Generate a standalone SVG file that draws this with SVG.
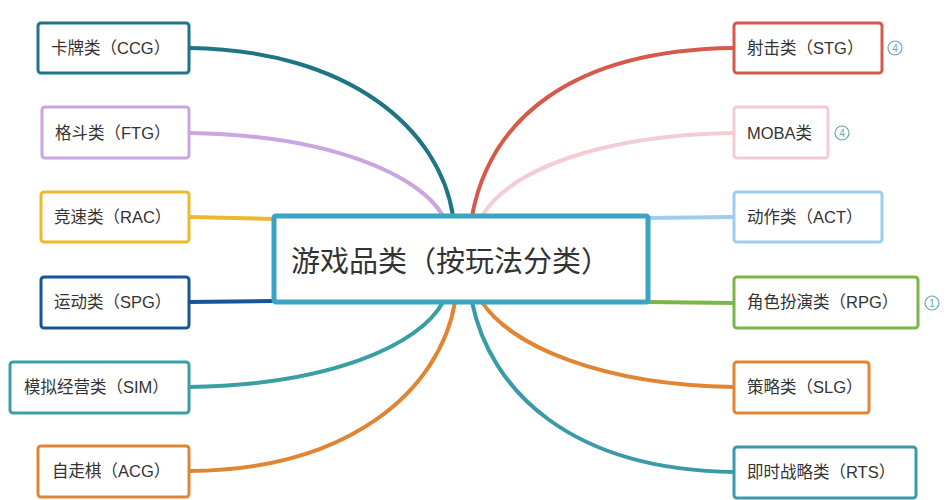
<svg xmlns="http://www.w3.org/2000/svg" width="949" height="500" viewBox="0 0 949 500">
<style>
.n{fill:#fff;stroke-width:3}
.t{font-family:"Liberation Sans","Noto Sans CJK SC",sans-serif;font-size:16.5px;fill:#333}
.c{fill:none;stroke-width:4;stroke-linecap:round}
.b{fill:#fff;stroke:#6aa8b0;stroke-width:1.2}
.bt{font-family:"Liberation Sans",sans-serif;font-size:10px;fill:#6aa8b0;text-anchor:middle}
</style>
<rect width="949" height="500" fill="#fff"/>
<g id="connectors">
<path class="c" stroke="#1e7585" d="M189,48 C350,50 440,130 453,216"/>
<path class="c" stroke="#c9a6df" d="M189,133 C330,135 420,175 443,216"/>
<path class="c" stroke="#ecb92c" d="M189,217 L274,219"/>
<path class="c" stroke="#17559a" d="M189,302 L274,301"/>
<path class="c" stroke="#3a9fa3" d="M189,387 C330,385 420,345 443,302"/>
<path class="c" stroke="#e08534" d="M189,471 C350,470 440,390 455,302"/>
<path class="c" stroke="#d65a4c" d="M734,48 C570,50 490,120 472,216"/>
<path class="c" stroke="#f3cdd3" d="M734,133 C600,135 510,170 482,216"/>
<path class="c" stroke="#9fcdef" d="M648,218 L734,217"/>
<path class="c" stroke="#7ab648" d="M648,302 L734,303"/>
<path class="c" stroke="#e08534" d="M734,387 C600,385 510,345 482,302"/>
<path class="c" stroke="#3a9aa8" d="M734,472 C570,470 490,390 472,302"/>
</g>
<g id="root">
<rect x="274" y="216" width="374" height="86" rx="2" fill="#fff" stroke="#3ba3c6" stroke-width="5"/>
<text x="291" y="272" font-family="'Liberation Sans','Noto Sans CJK SC',sans-serif" font-size="29" fill="#333">游戏品类（按玩法分类）</text>
</g>
<g id="ccg"><rect class="n" x="38" y="23" width="151" height="50" rx="3" stroke="#1e7585"/><text class="t" x="51" y="54">卡牌类（CCG）</text></g>
<g id="ftg"><rect class="n" x="42" y="107" width="147" height="51" rx="3" stroke="#c9a6df"/><text class="t" x="55" y="139">格斗类（FTG）</text></g>
<g id="rac"><rect class="n" x="41" y="192" width="148" height="50" rx="3" stroke="#ecb92c"/><text class="t" x="54" y="223">竞速类（RAC）</text></g>
<g id="spg"><rect class="n" x="41" y="277" width="148" height="51" rx="3" stroke="#17559a"/><text class="t" x="54" y="308">运动类（SPG）</text></g>
<g id="sim"><rect class="n" x="10" y="362" width="179" height="51" rx="3" stroke="#3a9fa3"/><text class="t" x="24" y="393">模拟经营类（SIM）</text></g>
<g id="acg"><rect class="n" x="38" y="446" width="151" height="51" rx="3" stroke="#e08534"/><text class="t" x="52" y="477">自走棋（ACG）</text></g>
<g id="stg"><rect class="n" x="734" y="23" width="148" height="50" rx="3" stroke="#d65a4c"/><text class="t" x="747" y="54">射击类（STG）</text>
<circle class="b" cx="895" cy="48" r="7"/><text class="bt" x="895" y="52">4</text></g>
<g id="moba"><rect class="n" x="734" y="107" width="94" height="51" rx="3" stroke="#f3cdd3"/><text class="t" x="747" y="139">MOBA类</text>
<circle class="b" cx="842" cy="133" r="7"/><text class="bt" x="842" y="137">4</text></g>
<g id="act"><rect class="n" x="734" y="192" width="148" height="50" rx="3" stroke="#9fcdef"/><text class="t" x="747" y="223">动作类（ACT）</text></g>
<g id="rpg"><rect class="n" x="734" y="277" width="184" height="51" rx="3" stroke="#7ab648"/><text class="t" x="747" y="308">角色扮演类（RPG）</text>
<circle class="b" cx="932" cy="303" r="7"/><text class="bt" x="932" y="307">1</text></g>
<g id="slg"><rect class="n" x="734" y="362" width="135" height="51" rx="3" stroke="#e08534"/><text class="t" x="747" y="393">策略类（SLG）</text></g>
<g id="rts"><rect class="n" x="734" y="447" width="182" height="51" rx="3" stroke="#3a9aa8"/><text class="t" x="747" y="478">即时战略类（RTS）</text></g>
</svg>
